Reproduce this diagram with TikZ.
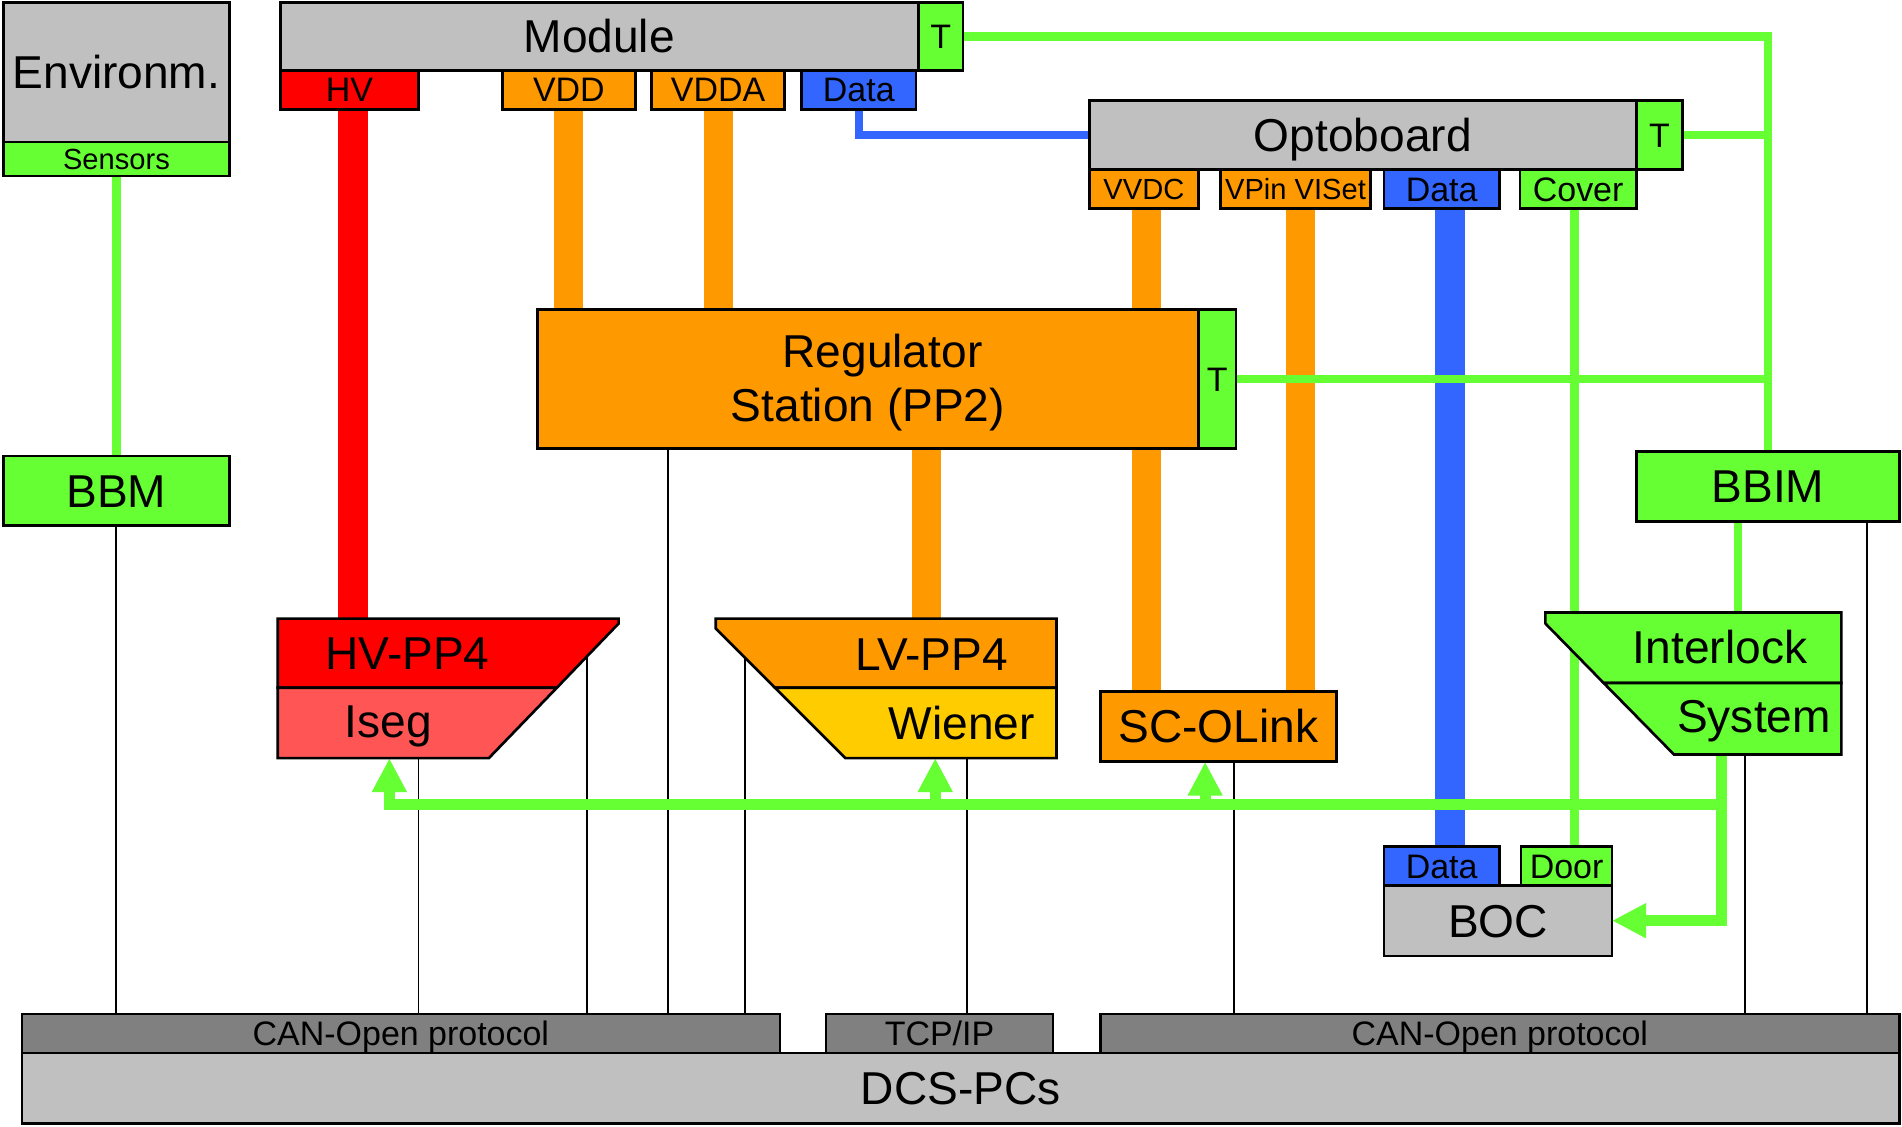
\documentclass[tikz,border=0pt]{standalone}
\usepackage{fontspec}
\setmainfont{Liberation Sans}
\usetikzlibrary{arrows.meta,positioning,backgrounds}
\definecolor{boxgray}{RGB}{192,192,192}
\definecolor{busgray}{RGB}{128,128,128}
\definecolor{sigorange}{RGB}{255,153,0}
\definecolor{siggreen}{RGB}{102,255,51}
\definecolor{sigred}{RGB}{255,0,0}
\definecolor{sigrose}{RGB}{255,85,85}
\definecolor{sigyellow}{RGB}{255,204,0}
\definecolor{sigblue}{RGB}{51,102,255}
\newcommand{\fbig}{\fontsize{38}{44}\selectfont}
\newcommand{\ftab}{\fontsize{28}{32}\selectfont}
\newcommand{\fsmall}{\fontsize{24}{28}\selectfont}

\begin{document}
\begin{tikzpicture}[x=1pt, y=-1pt,
    shell/.style={draw, line width=2.2pt, inner sep=0pt, outer sep=0pt, anchor=north west},
    block/.style={shell, font=\fbig, text height=27pt, text depth=0pt},
    tab/.style={shell, font=\ftab, text height=20pt, text depth=0pt},
    smalltab/.style={shell, font=\fsmall, text height=17pt, text depth=0pt},
    tlabel/.style={font=\fbig, anchor=base, inner sep=0pt},
    trap/.style={line width=2.2pt, line join=miter},
    gline/.style={draw=siggreen, line width=6.8pt},
    bluelink/.style={draw=sigblue, line width=6.8pt},
    redbar/.style={draw=sigred, line width=24pt},
    orangebar/.style={draw=sigorange, line width=24pt},
    bluebar/.style={draw=sigblue, line width=24.5pt},
    wire/.style={draw=black, line width=1.6pt},
    bus/.style={draw=siggreen, line width=9.3pt, -{Triangle[length=28pt,width=27pt]}}
]
\useasboundingbox (0,0) rectangle (1568,929);

% environment and module
\node[block, fill=boxgray, minimum width=186pt, minimum height=115pt] (env) at (3,2) {Environm.};
\node[smalltab, fill=siggreen, minimum width=186pt, minimum height=28pt] (sensors) at (env.south west) {Sensors};
\node[block, fill=boxgray, minimum width=526pt, minimum height=56pt] (module) at (231,2) {Module};
\node[tab, fill=siggreen, minimum width=37pt, minimum height=56pt] (moduleT) at (module.north east) {T};
\node[tab, fill=sigred, minimum width=114pt, minimum height=32pt] (moduleHV) at (module.south west) {HV};
\node[tab, fill=sigorange, minimum width=110pt, minimum height=32pt] (moduleVDD) at (414,58) {VDD};
\node[tab, fill=sigorange, minimum width=110pt, minimum height=32pt] (moduleVDDA) at (537,58) {VDDA};
\node[tab, fill=sigblue, minimum width=94pt, minimum height=32pt] (moduleData) at (661,58) {Data};

% optoboard
\node[block, fill=boxgray, minimum width=451pt, minimum height=57pt] (opto) at (898,83) {Optoboard};
\node[tab, fill=siggreen, minimum width=38pt, minimum height=57pt] (optoT) at (opto.north east) {T};
\node[smalltab, fill=sigorange, minimum width=90pt, minimum height=32pt] (optoVVDC) at (opto.south west) {VVDC};
\node[smalltab, fill=sigorange, minimum width=124pt, minimum height=32pt] (optoVPin) at (1006,140) {VPin VISet};
\node[tab, fill=sigblue, minimum width=95pt, minimum height=32pt] (optoData) at (1141,140) {Data};
\node[tab, fill=siggreen, minimum width=96pt, minimum height=32pt] (optoCover) at (1253,140) {Cover};

% regulator station
\node[shell, font=\fbig, align=center, fill=sigorange, minimum width=545pt, minimum height=115pt] (reg) at (443,255) {\rule{0pt}{33pt}\hspace*{24pt}Regulator\\Station (PP2)};
\node[tab, fill=siggreen, minimum width=31pt, minimum height=115pt] (regT) at (reg.north east) {T};

\node[block, fill=siggreen, minimum width=186pt, minimum height=57pt] (bbm) at (3,376) {BBM};
\node[block, fill=siggreen, minimum width=217pt, minimum height=58pt] (bbim) at (1349,372) {BBIM};
\node[block, fill=sigorange, minimum width=195pt, minimum height=58pt] (scolink) at (907,570) {SC-OLink};

% BOC
\node[block, fill=boxgray, minimum width=188pt, minimum height=58pt] (boc) at (1141,730) {BOC};
\node[tab, fill=sigblue, minimum width=95pt, minimum height=32pt, anchor=south west] (bocData) at (boc.north west) {Data};
\node[tab, fill=siggreen, minimum width=75pt, minimum height=32pt, anchor=south east] (bocDoor) at (boc.north east) {Door};

% DCS
\node[block, fill=boxgray, minimum width=1548pt, minimum height=58pt] (dcs) at (18,868) {DCS-PCs};
\node[tab, fill=busgray, minimum width=625pt, minimum height=32pt, anchor=south west] (canleft) at (dcs.north west) {CAN-Open protocol};
\node[tab, fill=busgray, minimum width=187pt, minimum height=32pt, anchor=south west] (tcpip) at (681,868) {TCP/IP};
\node[tab, fill=busgray, minimum width=659pt, minimum height=32pt, anchor=south east] (canright) at (dcs.north east) {CAN-Open protocol};

% PP4 crates and interlock
\filldraw[trap, fill=sigred] (229,510) -- (510,510) -- (510,514) -- (459,567) -- (229,567) -- cycle;
\filldraw[trap, fill=sigrose] (229,567) -- (459,567) -- (403,625) -- (229,625) -- cycle;
\filldraw[trap, fill=sigorange] (590,518) -- (590,510) -- (871,510) -- (871,567) -- (639,567) -- cycle;
\filldraw[trap, fill=sigyellow] (639,567) -- (871,567) -- (871,625) -- (697,625) -- cycle;
\filldraw[trap, fill=siggreen] (1274,514) -- (1274,505) -- (1518,505) -- (1518,563) -- (1322,563) -- cycle;
\filldraw[trap, fill=siggreen] (1322,563) -- (1518,563) -- (1518,622) -- (1380,622) -- cycle;
\node[tlabel] (hvpp) at (336,552) {HV-PP4};
\node[tlabel] (iseg) at (320,608) {Iseg};
\node[tlabel] (lvpp) at (768,553) {LV-PP4};
\node[tlabel] (wiener) at (793,610) {Wiener};
\node[tlabel] (ilock) at (1418,547) {Interlock};
\node[tlabel] (ilsys) at (1446,604) {System};

\coordinate (hvin) at (291,510);
\coordinate (hvcan) at (484,541);
\coordinate (isegcan) at (345,625);
\coordinate (isegin) at (321,625);
\coordinate (lvin) at (763.5,510);
\coordinate (lvcan) at (614,542);
\coordinate (wienercan) at (797,625);
\coordinate (wienerin) at (771,625);
\coordinate (ilockin) at (1433,505);
\coordinate (ilockout) at (1419,622);
\coordinate (ilockcan) at (1438.5,622);
\coordinate (busend) at (1419,663);
\coordinate (scoin) at (993.5,628);
\coordinate (vvdcx) at (945,0);
\coordinate (vpinx) at (1072,0);
\coordinate (datax) at (1195.5,0);
\coordinate (coverx) at (1298,0);
\coordinate (regx) at (551,0);
\coordinate (scox) at (1017,0);
\coordinate (bbimx) at (1539,0);

\begin{scope}[on background layer]
% power and data
\draw[redbar] (hvin |- moduleHV.south) -- (hvin);
\draw[orangebar] (moduleVDD.south) -- (moduleVDD.south |- reg.north);
\draw[orangebar] (moduleVDDA.south) -- (moduleVDDA.south |- reg.north);
\draw[orangebar] (vvdcx |- optoVVDC.south) -- (vvdcx |- reg.north);
\draw[orangebar] (vvdcx |- reg.south) -- (vvdcx |- scolink.north);
\draw[orangebar] (vpinx |- optoVPin.south) -- (vpinx |- scolink.north);
\draw[orangebar] (lvin |- reg.south) -- (lvin);
\draw[bluebar] (datax |- optoData.south) -- (datax |- bocData.north);
\draw[bluelink] (moduleData.south) |- (opto.west);
% temperature and sensor lines
\draw[gline] (moduleT.east) -| (bbim.north);
\draw[gline] (optoT.east) -- (optoT.east -| bbim.north);
\draw[gline] (regT.east) -- (regT.east -| bbim.north);
\draw[gline] (sensors.south) -- (bbm.north);
\draw[gline] (ilockin |- bbim.south) -- (ilockin);
\draw[gline] (coverx |- optoCover.south) -- (coverx |- bocDoor.north);
% links to the DCS-PCs
\draw[wire] (bbm.south) -- (bbm.south |- canleft.north);
\draw[wire] (isegcan) -- (isegcan |- canleft.north);
\draw[wire] (hvcan) -- (hvcan |- canleft.north);
\draw[wire] (regx |- reg.south) -- (regx |- canleft.north);
\draw[wire] (lvcan) -- (lvcan |- canleft.north);
\draw[wire] (wienercan) -- (wienercan |- tcpip.north);
\draw[wire] (scox |- scolink.south) -- (scox |- canright.north);
\draw[wire] (ilockcan) -- (ilockcan |- canright.north);
\draw[wire] (bbimx |- bbim.south) -- (bbimx |- canright.north);
% interlock signals
\draw[bus] (ilockout) |- (boc.east);
\draw[bus] (busend) -| (isegin);
\draw[bus] (wienerin |- busend) -- (wienerin);
\draw[bus] (scoin |- busend) -- (scoin);
\end{scope}

\end{tikzpicture}
\end{document}
